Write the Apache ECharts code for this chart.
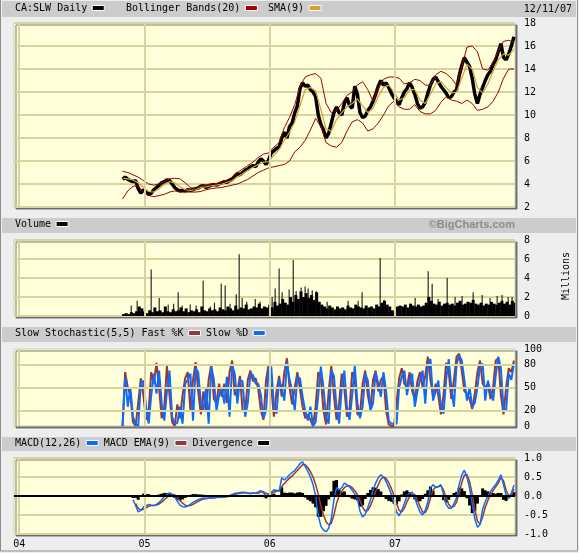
<!DOCTYPE html>
<html><head><meta charset="utf-8">
<script src="https://cdn.jsdelivr.net/npm/echarts@6.0.0/dist/echarts.min.js"></script>
<style>html,body{margin:0;padding:0;background:#eeeeee;}#c{width:579px;height:553px;}</style>
</head><body><div id="c"></div>
<script>
// ---- x sampling (months since Jan 2004) ----
const WEEK_START = 9.9, WEEK_STEP = 0.25;   // weekly samples
const BAND_START = 9.9, BAND_STEP = 0.5;    // half-month samples
const yearTicks = [0, 12, 24, 36];
const yearLabels = ['04', '05', '06', '07'];

// ---- price (close) ----
const price = [4.4,4.6,4.4,4.3,4.2,4.3,3.6,3.2,3.5,3.3,
 3.1,3.2,3.5,3.7,3.9,4.1,4.2,4.35,4.3,4.0,
 3.7,3.5,3.4,3.45,3.4,3.5,3.45,3.5,3.6,3.65,
 3.8,3.85,3.7,3.8,3.9,3.95,3.9,4.0,4.1,4.2,
 4.15,4.3,4.4,4.7,4.9,4.8,5.0,5.2,5.3,5.5,
 5.6,5.5,5.9,6.2,6.0,5.7,6.1,6.7,6.9,7.1,
 7.2,8.0,8.5,8.0,9.0,9.3,10.2,10.8,12.3,12.8,
 12.5,12.6,12.2,12.0,11.6,10.0,9.2,8.7,8.0,8.4,
 9.3,10.2,10.7,10.2,10.0,11.0,11.5,10.8,10.6,12.5,
 11.8,10.2,9.8,9.9,10.4,10.7,11.2,11.8,12.5,13.0,
 12.6,12.8,12.4,11.9,11.5,11.2,10.9,11.5,12.0,12.3,
 12.8,12.4,11.8,11.0,10.6,10.7,11.1,11.9,12.6,13.1,
 13.3,12.9,12.5,12.2,11.9,11.5,11.6,12.0,12.2,13.4,
 14.3,15.0,14.6,14.2,13.2,11.8,11.0,11.8,12.4,13.0,
 13.5,13.8,14.4,14.8,15.5,16.2,15.0,14.8,15.3,16.0,
 16.8];
const sma9 = [4.5,4.45,4.35,4.1,3.7,3.35,3.3,3.6,3.95,4.2,
 4.1,3.75,3.5,3.45,3.5,3.7,3.75,3.85,3.9,4.0,
 4.15,4.3,4.6,4.9,5.2,5.45,5.7,5.9,5.95,6.5,
 7.0,7.8,8.5,9.4,10.8,12.2,12.4,12.1,10.5,8.8,
 8.6,9.6,10.2,10.7,11.0,11.4,10.8,10.2,10.6,11.6,
 12.4,12.6,12.0,11.3,11.5,12.2,12.2,11.3,11.0,11.8,
 12.7,12.9,12.4,11.9,12.0,13.2,14.4,14.0,12.4,11.9,
 12.7,13.8,14.8,15.3,15.2,15.7];
const bollUpper = [5.1,5.0,4.8,4.6,4.3,4.0,3.9,4.0,4.2,4.45,
 4.5,4.45,4.1,3.7,3.6,3.8,3.95,4.0,4.05,4.2,
 4.35,4.6,5.0,5.3,5.6,5.9,6.3,6.6,6.7,7.2,
 7.6,8.9,9.8,10.9,12.5,13.3,13.5,13.6,13.2,11.0,
 10.2,10.4,11.0,11.7,12.0,12.6,12.9,12.2,11.2,12.3,
 13.1,13.3,13.3,13.2,12.7,12.8,13.1,13.0,12.6,12.6,
 13.5,13.8,13.6,13.2,12.6,14.2,15.9,16.0,15.5,14.0,
 13.9,14.6,15.6,16.4,16.5,16.3];
const bollLower = [2.7,3.4,3.8,3.85,3.3,3.0,2.9,3.0,3.1,3.3,
 3.4,3.3,3.3,3.3,3.3,3.35,3.5,3.6,3.65,3.7,
 3.8,3.9,4.0,4.2,4.4,4.7,5.0,5.2,5.4,5.5,
 5.6,5.7,6.0,6.8,7.2,7.8,8.7,9.7,9.0,7.6,
 7.3,7.2,7.6,8.6,9.4,9.6,9.3,8.6,8.8,9.3,
 10.0,10.8,11.2,10.7,10.5,10.5,10.9,10.3,10.1,10.1,
 10.4,11.1,11.6,11.3,11.2,11.0,11.3,11.0,10.4,10.5,
 10.7,11.2,12.0,13.2,14.0,14.0];

// ---- volume (millions) ----
const volume = [0.2,0.3,0.2,0.4,0.3,0.5,1.0,0.8,0.5,0.3,
 0.6,0.4,0.9,0.5,0.6,0.4,1.0,0.5,0.4,0.7,
 0.5,0.6,0.9,0.5,0.8,0.4,0.6,0.5,0.7,0.4,
 1.0,0.6,0.5,0.8,0.6,0.7,0.5,0.9,0.7,0.6,
 1.0,0.8,0.6,1.1,0.7,0.9,0.8,1.2,0.7,0.8,
 1.0,0.9,1.3,0.8,1.0,0.9,1.2,0.9,1.5,1.1,
 1.3,1.8,1.4,1.2,2.0,1.5,2.2,1.8,2.6,2.0,
 2.4,1.9,2.2,1.7,2.5,1.5,1.2,1.0,0.8,1.1,
 0.9,0.7,1.0,0.8,0.9,0.7,1.1,0.9,0.8,1.2,
 1.0,0.9,0.8,1.1,0.9,1.0,0.8,1.2,1.0,1.4,
 1.6,1.2,1.0,0.6,0.4,1.0,1.1,1.0,1.2,0.9,
 1.3,1.1,1.0,1.2,1.0,1.1,1.4,2.0,1.6,1.3,
 1.2,1.5,1.1,1.3,1.4,1.2,1.3,1.1,1.4,1.6,
 1.2,1.3,1.5,1.4,1.7,1.3,1.2,1.4,1.1,1.3,
 1.2,1.5,1.3,1.2,1.4,1.6,1.3,1.5,1.2,1.6,
 1.4];
const volSpikeMonth = [10.73,11.30,12.64,13.41,14.27,14.80,15.23,15.61,16.38,16.95,17.62,18.30,18.70,19.35,19.73,20.20,20.79,21.07,21.36,21.80,22.61,23.08,24.23,24.52,24.90,25.19,25.86,26.25,26.53,27.01,27.39,27.68,28.07,28.45,29.50,31.51,32.47,32.85,34.58,34.96,37.93,39.18,39.56,40.13,41.00,41.76,42.43,43.49,44.35,45.11,45.79,46.26,46.84,47.22];
const volSpikeValue = [1.1,1.6,4.9,1.9,1.2,1.3,2.5,1.1,1.2,1.1,3.7,1.0,1.4,3.4,3.2,1.3,2.3,6.5,1.9,1.5,1.8,1.5,2.0,2.9,5.0,2.5,2.8,5.9,2.6,3.0,3.1,2.9,2.7,2.6,1.5,1.6,1.6,2.5,6.1,1.7,1.9,4.7,3.4,1.8,4.0,2.0,2.1,2.5,2.2,1.9,2.1,2.2,2.0,2.0];

// ---- slow stochastic ----
const stochK = [0,70,50,40,5,0,30,62,40,8,
 20,70,55,82,50,10,25,78,40,5,
 0,28,10,40,62,70,20,60,83,45,
 15,45,20,60,80,35,30,55,38,55,
 30,70,85,40,45,65,20,18,60,72,
 58,62,48,20,8,60,80,50,12,45,
 65,38,70,88,50,28,50,70,48,25,
 10,15,8,0,25,70,62,20,2,45,
 78,40,8,30,68,48,12,22,70,60,
 15,15,55,72,40,22,60,72,45,60,
 65,20,2,0,0,30,62,75,55,50,
 70,45,35,58,70,50,65,90,60,38,
 55,40,15,40,82,70,35,60,90,94,
 72,45,42,35,22,42,70,85,55,50,
 55,35,50,85,88,40,15,50,75,70,
 85];
const stochD = [0,64,25,50,12,2,0,55,59,25,
 3,40,68,42,72,30,7,45,72,12,
 3,4,25,3,55,60,68,7,75,70,
 30,20,50,3,77,60,20,40,50,29,
 64,12,79,68,29,60,58,12,30,68,
 66,55,55,40,10,20,75,77,25,16,
 60,50,33,83,60,46,20,64,62,38,
 20,7,25,0,5,40,77,50,12,3,
 72,65,25,3,50,72,25,8,40,79,
 30,10,25,68,59,20,30,70,55,38,
 70,45,7,3,3,3,50,64,72,40,
 60,68,25,45,60,72,29,80,87,33,
 45,59,25,16,60,87,50,25,80,92,
 85,60,33,50,25,30,50,78,81,33,
 59,45,33,65,90,75,22,20,68,60,
 82];

// ---- MACD ----
const macd = [null,null,null,null,-0.10,-0.25,-0.42,-0.38,-0.29,-0.26,
 -0.22,-0.24,-0.25,-0.22,-0.17,-0.10,-0.02,0.04,0.08,0.05,
 -0.02,-0.14,-0.24,-0.28,-0.29,-0.26,-0.22,-0.17,-0.13,-0.10,
 -0.07,-0.05,-0.06,-0.05,-0.04,-0.05,-0.03,-0.02,-0.04,-0.02,
 0.0,0.01,0.04,0.07,0.08,0.09,0.10,0.09,0.07,0.06,
 0.08,0.07,0.11,0.14,0.08,0.01,0.04,0.10,0.16,0.15,
 0.13,0.48,0.42,0.48,0.56,0.62,0.67,0.76,0.85,0.90,
 0.78,0.65,0.50,0.30,0.00,-0.50,-0.80,-0.90,-0.94,-0.85,
 -0.60,-0.10,0.22,0.16,0.22,0.34,0.30,0.24,0.15,0.05,
 -0.08,-0.40,-0.55,-0.48,-0.30,-0.10,0.15,0.34,0.48,0.56,
 0.50,0.38,0.22,0.05,-0.18,-0.42,-0.52,-0.38,-0.20,0.00,
 0.08,0.10,-0.05,-0.25,-0.42,-0.50,-0.38,-0.15,0.20,0.30,
 0.22,0.25,0.30,0.05,-0.22,-0.32,-0.32,-0.20,-0.05,0.30,
 0.55,0.68,0.50,0.20,-0.20,-0.60,-0.82,-0.75,-0.35,-0.15,
 0.00,0.12,0.22,0.30,0.42,0.56,0.30,0.02,-0.06,0.08,
 0.28];
const macdSignal = [null,null,null,null,null,-0.20,-0.32,-0.37,-0.35,-0.31,
 -0.27,-0.25,-0.25,-0.24,-0.21,-0.16,-0.10,-0.04,0.02,0.04,
 0.03,-0.04,-0.12,-0.19,-0.24,-0.26,-0.25,-0.22,-0.18,-0.14,
 -0.11,-0.08,-0.07,-0.06,-0.05,-0.05,-0.04,-0.03,-0.03,-0.03,
 -0.02,0.0,0.02,0.04,0.06,0.07,0.08,0.09,0.08,0.07,
 0.07,0.07,0.08,0.11,0.11,0.07,0.05,0.06,0.10,0.13,
 0.13,0.25,0.33,0.40,0.47,0.53,0.60,0.67,0.75,0.82,
 0.82,0.75,0.64,0.50,0.30,0.05,-0.25,-0.50,-0.68,-0.76,
 -0.72,-0.50,-0.20,0.00,0.12,0.22,0.27,0.27,0.22,0.14,
 0.04,-0.12,-0.30,-0.40,-0.38,-0.26,-0.08,0.12,0.30,0.44,
 0.50,0.46,0.35,0.20,0.02,-0.20,-0.38,-0.42,-0.32,-0.15,
 -0.02,0.06,0.04,-0.10,-0.28,-0.42,-0.44,-0.30,-0.05,0.16,
 0.24,0.24,0.27,0.16,-0.05,-0.22,-0.30,-0.28,-0.16,0.08,
 0.35,0.55,0.56,0.38,0.05,-0.35,-0.66,-0.74,-0.55,-0.30,
 -0.12,0.03,0.14,0.24,0.34,0.48,0.40,0.15,0.00,0.02,
 0.18];
const divergence = [null,null,null,null,-0.05,-0.05,-0.10,-0.01,0.06,0.05,
 0.05,0.01,0.0,0.02,0.04,0.06,0.08,0.08,0.06,0.01,
 -0.05,-0.10,-0.12,-0.09,-0.05,0.0,0.03,0.05,0.05,0.04,
 0.04,0.03,0.01,0.01,0.01,0.0,0.01,0.01,-0.01,0.01,
 0.02,0.01,0.02,0.03,0.02,0.02,0.02,0.0,-0.01,-0.01,
 0.01,0.0,0.03,0.03,-0.03,-0.06,-0.01,0.04,0.06,0.02,
 0.0,0.23,0.09,0.08,0.09,0.09,0.07,0.09,0.10,0.08,
 -0.04,-0.10,-0.14,-0.20,-0.30,-0.55,-0.55,-0.40,-0.26,-0.09,
 0.12,0.40,0.42,0.16,0.10,0.12,0.03,-0.03,-0.07,-0.09,
 -0.12,-0.28,-0.25,-0.08,0.08,0.16,0.23,0.22,0.18,0.12,
 0.0,-0.08,-0.13,-0.15,-0.20,-0.22,-0.14,0.04,0.12,0.15,
 0.10,0.04,-0.09,-0.15,-0.14,-0.08,0.06,0.15,0.25,0.14,
 -0.02,0.01,0.03,-0.11,-0.17,-0.10,-0.02,0.08,0.11,0.22,
 0.20,0.13,-0.06,-0.25,-0.45,-0.40,-0.20,-0.01,0.20,0.15,
 0.12,0.09,0.08,0.06,0.08,0.08,-0.10,-0.13,-0.06,0.06,
 0.10];

// ---- helpers ----
const toPairs = (arr, start, step) => arr.map((v, i) => [start + step * i, v]);
const weekly = arr => toPairs(arr, WEEK_START, WEEK_STEP);
const halfMonthly = arr => toPairs(arr, BAND_START, BAND_STEP);

const FONT = 'DejaVu Sans Mono';
const GRID_COLOR = '#d7d4a2';
const PLOT_BG = '#ffffd9';
const RED = '#a00000', GOLD = '#d4a030', KRED = '#9c3535', BLUE = '#0a6cff';

const gridBoxes = [
  {top: 23, height: 184},
  {top: 240, height: 76},
  {top: 349, height: 77},
  {top: 458, height: 76}
];
const grids = gridBoxes.map(b => ({
  left: 14, width: 501, top: b.top, height: b.height, show: true,
  backgroundColor: PLOT_BG, borderColor: '#d0cfb0', borderWidth: 1,
  shadowColor: 'rgba(90,90,90,0.8)', shadowOffsetX: 2, shadowOffsetY: 2, shadowBlur: 0
}));

const xAxes = gridBoxes.map((b, i) => ({
  type: 'value', gridIndex: i, min: -0.5, max: 47.5, interval: 0.5,
  splitLine: {show: false}, axisLine: {show: false}, axisTick: {show: false},
  axisLabel: {
    show: i === 3, margin: 5, fontFamily: FONT, fontSize: 10, color: '#000',
    formatter: v => { const k = yearTicks.indexOf(Math.round(v * 2) / 2); return k >= 0 ? yearLabels[k] : ''; }
  }
}));

const labelBase = {fontFamily: FONT, fontSize: 10, color: '#000', margin: 9, align: 'left'};
const splitBase = {lineStyle: {color: GRID_COLOR, width: 2}};
const yAxes = [
  {type: 'value', gridIndex: 0, position: 'right', min: 2, max: 18, interval: 2,
   axisLine: {show: false}, axisTick: {show: false}, splitLine: splitBase, axisLabel: labelBase},
  {type: 'value', gridIndex: 1, position: 'right', min: 0, max: 8, interval: 2,
   axisLine: {show: false}, axisTick: {show: false}, splitLine: splitBase, axisLabel: labelBase},
  {type: 'value', gridIndex: 2, position: 'right', min: 0, max: 100, interval: 10,
   axisLine: {show: false}, axisTick: {show: false}, splitLine: {show: false},
   axisLabel: Object.assign({}, labelBase, {formatter: v => ([0, 20, 50, 80, 100].indexOf(v) >= 0 ? String(v) : '')})},
  {type: 'value', gridIndex: 3, position: 'right', min: -1, max: 1, interval: 0.5,
   axisLine: {show: false}, axisTick: {show: false}, splitLine: splitBase,
   axisLabel: Object.assign({}, labelBase, {formatter: v => v.toFixed(1)})}
];

function gridLineSeries(i, extra) {
  const data = yearTicks.map(t => ({xAxis: t})).concat(extra || []);
  return {
    type: 'line', xAxisIndex: i, yAxisIndex: i, data: [], z: 1, silent: true,
    markLine: {silent: true, symbol: ['none', 'none'], label: {show: false},
      emphasis: {disabled: true}, animation: false,
      lineStyle: {color: GRID_COLOR, width: 2, type: 'solid'}, data: data}
  };
}
const lineBase = {type: 'line', showSymbol: false, symbol: 'none', animation: false, emphasis: {disabled: true}};

const series = [
  gridLineSeries(0), gridLineSeries(1),
  gridLineSeries(2, [{yAxis: 20}, {yAxis: 50}, {yAxis: 80}]),
  gridLineSeries(3),
  Object.assign({}, lineBase, {name: 'CA:SLW Daily', xAxisIndex: 0, yAxisIndex: 0, z: 2, color: '#000',
    lineStyle: {color: '#000', width: 3.5}, data: weekly(price)}),
  Object.assign({}, lineBase, {name: 'Bollinger Bands(20)', xAxisIndex: 0, yAxisIndex: 0, z: 3, color: RED,
    lineStyle: {color: RED, width: 1}, data: halfMonthly(bollUpper)}),
  Object.assign({}, lineBase, {name: 'Bollinger Bands(20)', xAxisIndex: 0, yAxisIndex: 0, z: 3, color: RED,
    lineStyle: {color: RED, width: 1}, data: halfMonthly(bollLower)}),
  Object.assign({}, lineBase, {name: 'SMA(9)', xAxisIndex: 0, yAxisIndex: 0, z: 4, color: GOLD,
    lineStyle: {color: GOLD, width: 1.2}, data: halfMonthly(sma9)}),
  {type: 'bar', name: 'Volume', xAxisIndex: 1, yAxisIndex: 1, z: 2, color: '#000', barWidth: 3, barGap: '-100%',
    animation: false, emphasis: {disabled: true}, data: weekly(volume)},
  {type: 'bar', name: 'Volume', xAxisIndex: 1, yAxisIndex: 1, z: 2, color: '#000', barWidth: 1, barGap: '-100%',
    animation: false, emphasis: {disabled: true}, data: volSpikeMonth.map((m, i) => [m, volSpikeValue[i]])},
  Object.assign({}, lineBase, {name: 'Slow Stochastic(5,5) Fast %K', xAxisIndex: 2, yAxisIndex: 2, z: 2, color: KRED,
    lineStyle: {color: KRED, width: 2}, data: weekly(stochK)}),
  Object.assign({}, lineBase, {name: 'Slow %D', xAxisIndex: 2, yAxisIndex: 2, z: 3, color: BLUE,
    lineStyle: {color: BLUE, width: 2}, data: weekly(stochD)}),
  {type: 'bar', name: 'Divergence', xAxisIndex: 3, yAxisIndex: 3, z: 2, color: '#000', barWidth: 3,
    animation: false, emphasis: {disabled: true}, data: weekly(divergence),
    markLine: {silent: true, symbol: ['none', 'none'], label: {show: false}, emphasis: {disabled: true},
      animation: false, lineStyle: {color: '#000', width: 2, type: 'solid'}, data: [{yAxis: 0}]}},
  Object.assign({}, lineBase, {name: 'MACD EMA(9)', xAxisIndex: 3, yAxisIndex: 3, z: 3, color: KRED,
    lineStyle: {color: KRED, width: 1.5}, data: weekly(macdSignal)}),
  Object.assign({}, lineBase, {name: 'MACD(12,26)', xAxisIndex: 3, yAxisIndex: 3, z: 4, color: BLUE,
    lineStyle: {color: BLUE, width: 1.5}, data: weekly(macd)})
];

const legendBase = {
  orient: 'horizontal', align: 'right', icon: 'rect', itemWidth: 12, itemHeight: 5, padding: 0,
  selectedMode: false, textStyle: {fontFamily: FONT, fontSize: 10, color: '#000'},
  itemStyle: {borderColor: '#fff', borderWidth: 1}
};
const legends = [
  Object.assign({}, legendBase, {data: ['CA:SLW Daily'], left: 15, top: 3}),
  Object.assign({}, legendBase, {data: ['Bollinger Bands(20)', 'SMA(9)'], left: 126, top: 3, itemGap: 10}),
  Object.assign({}, legendBase, {data: ['Volume'], left: 15, top: 219}),
  Object.assign({}, legendBase, {data: ['Slow Stochastic(5,5) Fast %K', 'Slow %D'], left: 15, top: 328, itemGap: 5}),
  Object.assign({}, legendBase, {data: ['MACD(12,26)', 'MACD EMA(9)', 'Divergence'], left: 15, top: 438, itemGap: 5})
];

const headerRect = (y, h) => ({type: 'rect', z: 0, silent: true, shape: {x: 2, y: y, width: 574, height: h}, style: {fill: '#cccccc'}});
const graphic = [
  {type: 'rect', z: 0, silent: true, shape: {x: 0.5, y: -1, width: 577, height: 552}, style: {fill: 'none', stroke: '#8c8c8c', lineWidth: 1}},
  headerRect(1, 16), headerRect(218, 15), headerRect(327, 15), headerRect(437, 14),
  {type: 'text', z: 10, silent: true, x: 572, y: 9, style: {text: '12/11/07', align: 'right', verticalAlign: 'middle', fontFamily: FONT, fontSize: 10, fill: '#000'}},
  {type: 'text', z: 10, silent: true, x: 515, y: 225, style: {text: '©BigCharts.com', align: 'right', verticalAlign: 'middle', fontFamily: 'Liberation Sans', fontWeight: 'bold', fontSize: 11, fill: '#8c8c8c'}},
  {type: 'text', z: 10, silent: true, x: 566, y: 276, rotation: Math.PI / 2, style: {text: 'Millions', align: 'center', verticalAlign: 'middle', fontFamily: FONT, fontSize: 10, fill: '#000'}}
];

const chart = echarts.init(document.getElementById('c'), null, {renderer: 'canvas'});
chart.setOption({
  backgroundColor: '#eeeeee',
  animation: false,
  grid: grids, xAxis: xAxes, yAxis: yAxes,
  legend: legends, graphic: graphic, series: series
});
</script></body></html>
